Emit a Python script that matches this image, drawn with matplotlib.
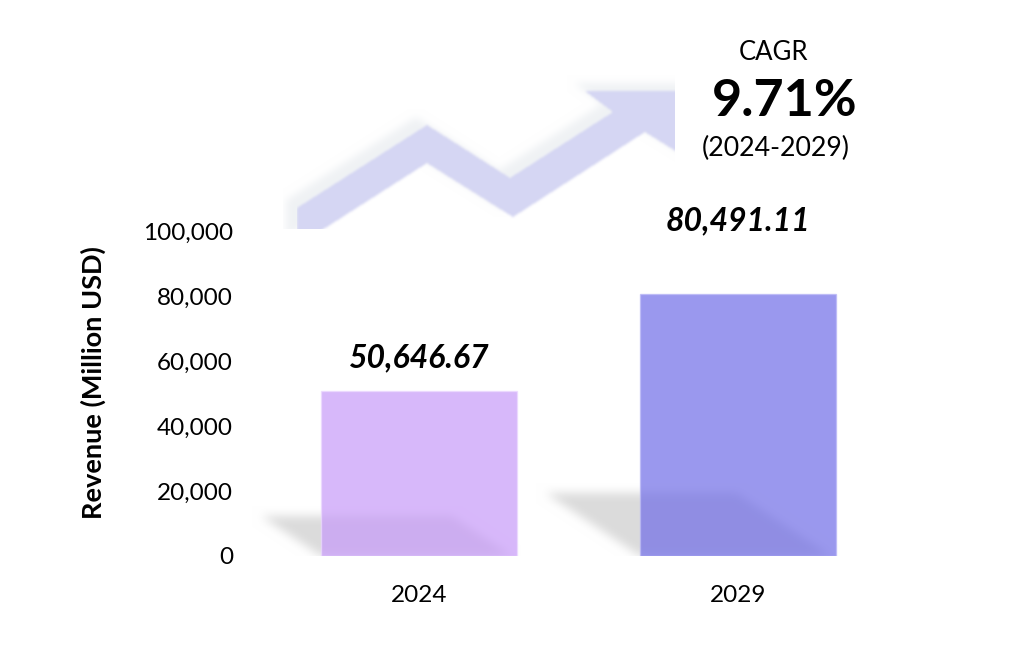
import numpy as np
import matplotlib
matplotlib.use("Agg")
from matplotlib import pyplot as plt
from matplotlib.path import Path

plt.rcParams["font.family"] = ["Lato", "DejaVu Sans"]

years = ["2024", "2029"]
revenue = [50646.67, 80491.11]
bar_labels = ["50,646.67", "80,491.11"]
label_offsets = [24, 53]  # points above bar top
yticks = [0, 20000, 40000, 60000, 80000, 100000]
cagr = "9.71%"
cagr_period = "(2024-2029)"

W, H = 1025, 671
fig = plt.figure(figsize=(W / 100, H / 100), dpi=100)

# background layer in pixel coords (y down) for arrow + soft shadows
bg = fig.add_axes([0, 0, 1, 1], zorder=0)
bg.set_xlim(0, W)
bg.set_ylim(H, 0)
bg.axis("off")

ax = fig.add_axes([259.5 / W, (H - 556) / H, 638 / W, 325 / H], zorder=1)
ax.set_facecolor("none")
ax.set_xlim(-0.5, 1.5)
ax.set_ylim(0, 100000)

x = np.arange(len(years))
width = 0.615
bars = ax.bar(x, revenue, width=width, color=["#c79af9", "#706de7"],
              alpha=0.7, edgecolor=["#ecd9ff", "#b9b7f7"], linewidth=1.0,
              zorder=3)

for xi, v, lab, off in zip(x, revenue, bar_labels, label_offsets):
    ax.annotate(lab, (xi, v), xytext=(0, off), textcoords="offset points",
                ha="center", va="center", fontsize=23, fontweight="bold",
                fontstyle="italic", annotation_clip=False)

ax.set_xticks(x, years)
ax.set_yticks(yticks, [f"{t:,}" for t in yticks])
ax.tick_params(axis="y", length=0, pad=19, labelsize=17.5)
ax.tick_params(axis="x", length=0, pad=21, labelsize=17.5)
for s in ax.spines.values():
    s.set_visible(False)
ax.set_ylabel("Revenue (Million USD)", fontsize=19.5, fontweight="bold")
ax.yaxis.set_label_coords(-0.24, 0.535)

# ---- raster decoration: arrow and blurred shadows ----
yy, xx = np.mgrid[0:H, 0:W] + 0.5
pts = np.column_stack([xx.ravel(), yy.ravel()])


def poly_mask(verts):
    return Path(verts).contains_points(pts).reshape(H, W).astype(float)


def blur(a, r):
    k = np.ones(2 * r + 1) / (2 * r + 1)
    for _ in range(2):
        a = np.apply_along_axis(lambda m: np.convolve(m, k, mode="same"), 0, a)
        a = np.apply_along_axis(lambda m: np.convolve(m, k, mode="same"), 1, a)
    return a


canvas = np.ones((H, W, 3))


def put(mask, rgb):
    rgb = np.array(rgb) / 255
    canvas[:] = canvas * (1 - mask[..., None]) + rgb * mask[..., None]


arrow = [(297, 208), (427, 125), (510, 178), (613, 112), (585, 91),
         (700, 91), (700, 166), (645, 132), (513, 217), (427, 163),
         (297, 246)]
clip = (xx >= 283) & (xx <= 675) & (yy <= 229)
sh = blur(poly_mask([(a - 11, b - 8) for a, b in arrow]), 4) * clip
put(sh * 0.8, (236, 239, 242))
am = blur(poly_mask(arrow), 1) * clip * (xx >= 297)
put(am, (213, 214, 243))

# bar shadows, placed from each bar's pixel extent
shadow = np.zeros((H, W))
for xi, v in zip(x, revenue):
    L, B = ax.transData.transform((xi - width / 2, 0))
    R, T = ax.transData.transform((xi + width / 2, v))
    B, T = H - B, H - T
    h = 0.24 * (B - T)
    s = 1.5 * h
    shadow += poly_mask([(L, B), (R - 5, B), (R - 5 - s, B - h), (L - s, B - h)])
shadow = blur(np.clip(shadow, 0, 1), 5) * (yy <= 556)
put(shadow * 0.34, (150, 150, 150))

bg.imshow(canvas, extent=(0, W, H, 0), interpolation="nearest", aspect="auto")

fig.text(773 / W, 1 - 52 / H, "CAGR", ha="center", va="center", fontsize=18.5)
fig.text(785 / W, 1 - 101 / H, cagr, ha="center", va="center", fontsize=37.5,
         fontweight="bold")
fig.text(776 / W, 1 - 148 / H, cagr_period, ha="center", va="center",
         fontsize=19.3)

fig.savefig("out.png", dpi=100)
